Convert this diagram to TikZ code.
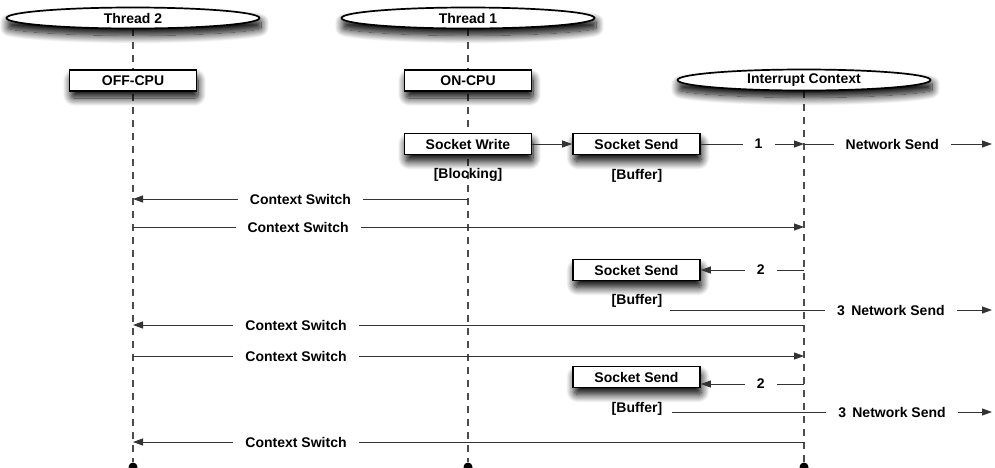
\documentclass[tikz,border=0pt]{standalone}
\usepackage{fontspec}
\setmainfont{Liberation Sans}
\usetikzlibrary{arrows.meta,shapes.geometric,shadows.blur,backgrounds}

\begin{document}
\begin{tikzpicture}[x=1pt,y=-1pt,
  font=\fontsize{14}{16}\selectfont\bfseries,
  life/.style={draw=black!70,line width=1.1pt,dash pattern=on 7pt off 6pt},
  msg/.style={draw=black!80,line width=1pt,-{Triangle[length=10pt,width=7pt]}},
  softshadow/.style={blur shadow={shadow xshift=1.5pt,shadow yshift=-7pt,shadow blur radius=8pt,shadow blur steps=14,shadow opacity=100,shadow blur extra rounding=3pt}},
  actbox/.style={draw=black,line width=1.7pt,fill=white,minimum width=127pt,minimum height=21pt,inner sep=0pt,softshadow},
  head/.style={ellipse,draw=black,line width=1.7pt,fill=white,minimum width=253pt,minimum height=21pt,inner sep=0pt,softshadow},
  lbl/.style={fill=white,inner xsep=12pt,inner ysep=1pt},
  tag/.style={inner sep=2pt},
  endpt/.style={circle,fill=black,inner sep=0pt,minimum size=9pt}
]
\useasboundingbox (0,0) rectangle (995,467);

% lifeline heads and activity boxes
\node[head] (th2) at (133,18) {Thread 2};
\node[head] (th1) at (468,18) {Thread 1};
\node[head] (irq) at (804,80) {Interrupt Context};
\node[actbox] (off) at (133,80.5) {OFF-CPU};
\node[actbox] (on) at (468,80.5) {ON-CPU};
\node[actbox] (sw) at (468,144) {Socket Write};
\node[actbox] (ss1) at (636.5,144) {Socket Send};
\node[actbox] (ss2) at (636.5,270) {Socket Send};
\node[actbox] (ss3) at (636.5,377) {Socket Send};

% annotations under the boxes
\node[tag] (blk) at (468,175) {[Blocking]};
\node[tag] (buf1) at (637,176) {[Buffer]};
\node[tag] (buf2) at (637,301) {[Buffer]};
\node[tag] (buf3) at (637,409) {[Buffer]};

% lifeline ends
\node[endpt] (e2) at (133,467) {};
\node[endpt] (e1) at (468,467) {};
\node[endpt] (e3) at (804,467) {};

% dashed lifelines behind everything
\begin{scope}[on background layer]
  \draw[life] (th2) -- (e2);
  \draw[life] (th1) -- (e1);
  \draw[life] (irq) -- (e3);
\end{scope}

% message anchor points on the lifelines
\coordinate (a1) at (804,144);
\coordinate (n1) at (992,144);
\coordinate (t1c1) at (468,199);
\coordinate (t2c1) at (133,199);
\coordinate (t2c2) at (133,227);
\coordinate (irc2) at (804,227);
\coordinate (ir2) at (804,270);
\coordinate (b2s) at (670,310);
\coordinate (n2) at (992,310);
\coordinate (irc3) at (804,325);
\coordinate (t2c3) at (133,325);
\coordinate (t2c4) at (133,356);
\coordinate (irc4) at (804,356);
\coordinate (ir3) at (804,384);
\coordinate (b3s) at (672,412);
\coordinate (n3) at (992,412);
\coordinate (irc5) at (804,442);
\coordinate (t2c5) at (133,442);

% messages
\draw[msg] (sw) -- (ss1);
\draw[msg] (ss1) -- node[lbl,pos=0.56]{1} (a1);
\draw[msg] (a1) -- node[lbl,pos=0.47]{Network Send} (n1);
\draw[msg] (t1c1) -- node[lbl]{Context Switch} (t2c1);
\draw[msg] (t2c2) -- node[lbl,pos=0.246]{Context Switch} (irc2);
\draw[msg] (ir2) -- node[lbl,pos=0.42]{2} (ss2.east |- ir2);
\draw[msg] (b2s) -- node[lbl,pos=0.686]{3\hspace{0.45em}Network Send} (n2);
\draw[msg] (irc3) -- node[lbl,pos=0.757]{Context Switch} (t2c3);
\draw[msg] (t2c4) -- node[lbl,pos=0.243]{Context Switch} (irc4);
\draw[msg] (ir3) -- node[lbl,pos=0.42]{2} (ss3.east |- ir3);
\draw[msg] (b3s) -- node[lbl,pos=0.6875]{3\hspace{0.45em}Network Send} (n3);
\draw[msg] (irc5) -- node[lbl,pos=0.757]{Context Switch} (t2c5);
\end{tikzpicture}
\end{document}
